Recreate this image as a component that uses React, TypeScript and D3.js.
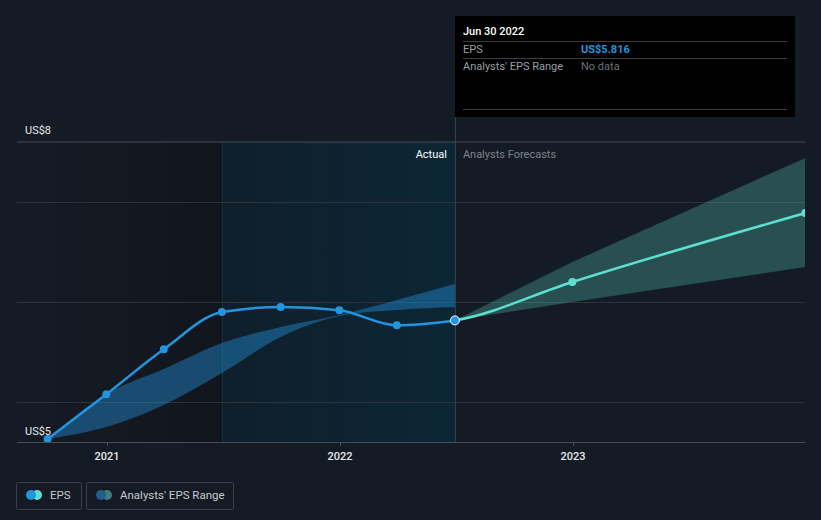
import React from "react";
import * as d3 from "d3";

const actualDates = ["2020-09-30", "2020-12-31", "2021-03-31", "2021-06-30", "2021-09-30", "2021-12-31", "2022-03-31", "2022-06-30"];
const actualEps = [4.63, 5.077, 5.527, 5.9, 5.95, 5.917, 5.767, 5.816];

const rangeDates = ["2020-09-30", "2020-12-31", "2021-03-31", "2021-06-30", "2021-09-30", "2021-12-31", "2022-03-31", "2022-06-30"];
const rangeHigh = [4.63, 5.08, 5.33, 5.59, 5.75, 5.87, 6.02, 6.18];
const rangeLow = [4.63, 4.75, 4.97, 5.29, 5.65, 5.86, 5.92, 5.95];

const forecastDates = ["2022-06-30", "2022-12-31", "2023-12-31"];
const forecastEps = [5.816, 6.2, 6.89];
const forecastHigh = [5.816, 6.4, 7.44];
const forecastLow = [5.816, 6.0, 6.35];

const yearTicks = ["2021-01-01", "2022-01-01", "2023-01-01"];
const yearLabels = ["2021", "2022", "2023"];
const gridValues = [5, 6, 7];
const yDomain = [4.6, 7.6];

const W = 821;
const H = 520;
const left = 17;
const right = 805;
const top = 142;
const bottom = 442;

const BLUE = "#2394df";
const TEAL = "#5ee0cf";
const FONT = "Roboto, 'Noto Sans', sans-serif";

const pd = (s: string) => d3.timeParse("%Y-%m-%d")(s) as Date;

export default function App() {
  const x = d3.scaleTime().domain([pd(yearTicks[0]), pd(yearTicks[2])]).range([107, 573]);
  const y = d3.scaleLinear().domain(yDomain).range([bottom, top]);

  const actual = actualDates.map((d, i) => ({ d: pd(d), v: actualEps[i] }));
  const band = rangeDates.map((d, i) => ({ d: pd(d), h: rangeHigh[i], l: rangeLow[i] }));
  const fc = forecastDates.map((d, i) => ({ d: pd(d), v: forecastEps[i], h: forecastHigh[i], l: forecastLow[i] }));
  const fcLineData = [actual[actual.length - 2], ...fc];

  const line = d3.line<{ d: Date; v: number }>().x((p) => x(p.d)).y((p) => y(p.v)).curve(d3.curveMonotoneX);
  const area = d3
    .area<{ d: Date; h: number; l: number }>()
    .x((p) => x(p.d))
    .y0((p) => y(p.l))
    .y1((p) => y(p.h))
    .curve(d3.curveMonotoneX);
  const fcArea = d3
    .area<{ d: Date; h: number; l: number }>()
    .x((p) => x(p.d))
    .y0((p) => y(p.l))
    .y1((p) => y(p.h))
    .curve(d3.curveLinear);

  const xNow = x(pd("2022-06-30"));
  const xHl = x(pd("2021-06-30"));
  const fmtY = (v: number) => "US$" + d3.format(".0f")(v);

  return (
    <svg width={W} height={H} style={{ position: "absolute", left: 0, top: 0, background: "#151b25" }} fontFamily={FONT}>
      <defs>
        <linearGradient id="pastGrad" x1="0" x2="1" y1="0" y2="0">
          <stop offset="0" stopColor="#151b25" />
          <stop offset="1" stopColor="#11151d" />
        </linearGradient>
        <linearGradient id="hlGrad" x1="0" x2="1" y1="0" y2="0">
          <stop offset="0" stopColor="#0f1f2b" />
          <stop offset="1" stopColor="#0c2635" />
        </linearGradient>
        <clipPath id="plotClip">
          <rect x={left} y={0} width={right - left} height={bottom} />
        </clipPath>
        <clipPath id="fcClip">
          <rect x={xNow} y={0} width={right - xNow} height={bottom} />
        </clipPath>
      </defs>
      <rect x={0} y={0} width={W} height={H} fill="#151b25" />
      <rect x={left} y={top} width={xHl - left} height={bottom - top} fill="url(#pastGrad)" />
      <rect x={xHl} y={top} width={xNow - xHl} height={bottom - top} fill="url(#hlGrad)" />
      <line x1={xHl + 0.5} x2={xHl + 0.5} y1={top} y2={bottom} stroke="#17323f" />

      {/* grid */}
      <line x1={left} x2={right} y1={y(yDomain[1])} y2={y(yDomain[1])} stroke="#474d56" />
      {gridValues.map((v) => (
        <line key={v} x1={left} x2={right} y1={y(v) + 0.5} y2={y(v) + 0.5} stroke="#2c323c" />
      ))}
      <line x1={left} x2={right} y1={bottom + 0.5} y2={bottom + 0.5} stroke="#474d56" />

      <text x={25} y={y(yDomain[1]) - 8} fill="#e6e8eb" fontSize={11}>{fmtY(yDomain[1])}</text>
      <text x={25} y={bottom - 7} fill="#e6e8eb" fontSize={11}>{fmtY(yDomain[0])}</text>

      {yearTicks.map((t, i) => (
        <g key={t}>
          <line x1={x(pd(t)) + 0.5} x2={x(pd(t)) + 0.5} y1={bottom} y2={bottom + 4} stroke="#474d56" />
          <text x={x(pd(t))} y={460} fill="#e6e8eb" fontSize={11} fontWeight={500} textAnchor="middle">
            {yearLabels[i]}
          </text>
        </g>
      ))}

      <text x={xNow - 8} y={158} fill="#ffffff" fontSize={11} textAnchor="end">Actual</text>
      <text x={xNow + 8} y={158} fill="#7d828b" fontSize={11}>Analysts Forecasts</text>

      <g clipPath="url(#plotClip)">
        <path d={area(band) || ""} fill={BLUE} fillOpacity={0.42} />
        <path d={fcArea(fc) || ""} fill={TEAL} fillOpacity={0.27} />
        <line x1={xNow + 0.5} x2={xNow + 0.5} y1={16} y2={bottom} stroke="#2e4654" />
        <path d={line(actual) || ""} fill="none" stroke={BLUE} strokeWidth={2.5} />
        <g clipPath="url(#fcClip)">
          <path d={line(fcLineData) || ""} fill="none" stroke={TEAL} strokeWidth={2.5} />
        </g>
        {actual.slice(0, -1).map((p, i) => (
          <circle key={i} cx={x(p.d)} cy={y(p.v)} r={4} fill={BLUE} />
        ))}
        {fc.slice(1).map((p, i) => (
          <circle key={i} cx={x(p.d)} cy={y(p.v)} r={4} fill={TEAL} />
        ))}
        <circle cx={xNow} cy={y(actualEps[actualEps.length - 1])} r={4.5} fill={BLUE} stroke="#ffffff" strokeWidth={1} />
      </g>

      {/* tooltip */}
      <rect x={xNow} y={16} width={340} height={101} fill="#000000" />
      <text x={463} y={35} fill="#ffffff" fontSize={11} fontWeight={500}>Jun 30 2022</text>
      <line x1={463} x2={787} y1={41.5} y2={41.5} stroke="#3a3d42" />
      <text x={463} y={53} fill="#9a9ea5" fontSize={11}>EPS</text>
      <text x={581} y={53} fill={BLUE} fontSize={11} fontWeight={700}>US$5.816</text>
      <line x1={463} x2={787} y1={58.5} y2={58.5} stroke="#3a3d42" />
      <text x={463} y={70} fill="#9a9ea5" fontSize={11}>Analysts' EPS Range</text>
      <text x={581} y={70} fill="#6e7278" fontSize={11}>No data</text>
      <line x1={463} x2={787} y1={109.5} y2={109.5} stroke="#3a3d42" />

      {/* legend */}
      <rect x={16.5} y={482.5} width={65} height={27} rx={2} fill="none" stroke="#3a3f49" />
      <circle cx={37} cy={495} r={5} fill={TEAL} />
      <circle cx={31} cy={495} r={5} fill={BLUE} />
      <text x={50} y={499} fill="#c5c9cf" fontSize={11.5}>EPS</text>
      <rect x={86.5} y={482.5} width={147} height={27} rx={2} fill="none" stroke="#3a3f49" />
      <circle cx={107} cy={495} r={5} fill="#3d7e7a" />
      <circle cx={101} cy={495} r={5} fill="#245d8a" />
      <text x={120} y={499} fill="#c5c9cf" fontSize={11.5}>Analysts' EPS Range</text>
    </svg>
  );
}
